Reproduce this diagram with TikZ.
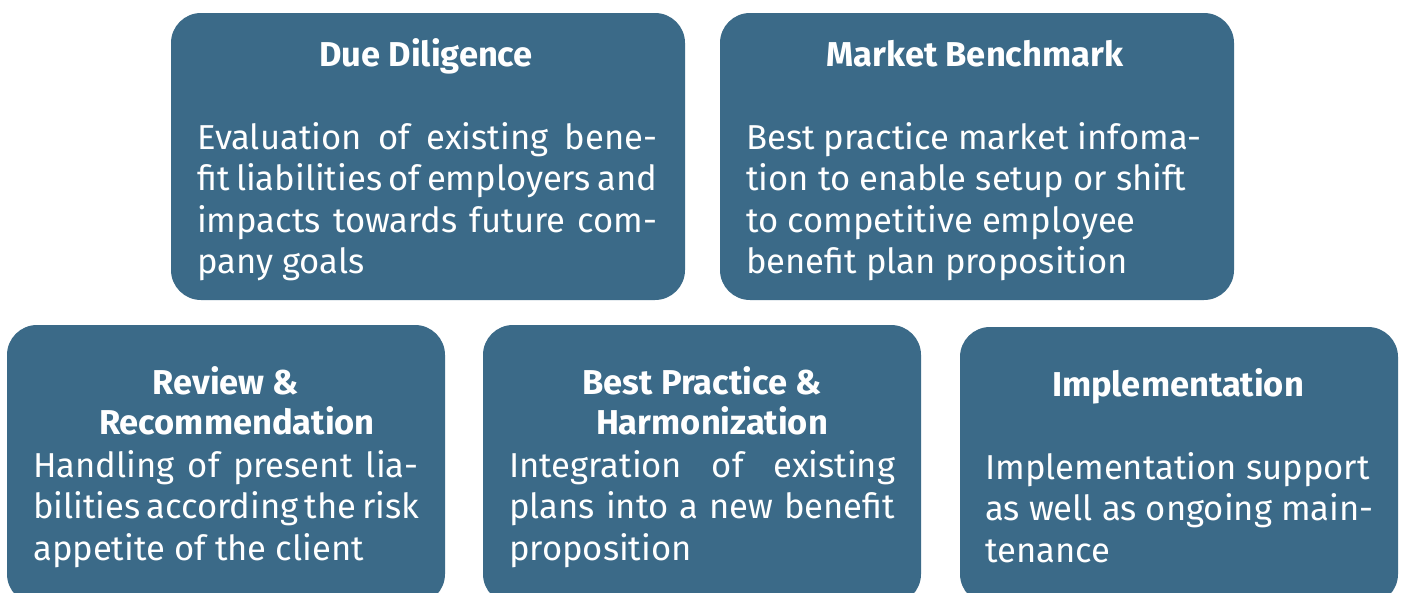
\documentclass[tikz,border=0pt]{standalone}
\usepackage{fontspec}
\setmainfont{Fira Sans}
\definecolor{boxblue}{RGB}{59,106,136}
\newcommand{\bodyfnt}{\fontsize{34.6}{41.5}\selectfont}
\newcommand{\headfnt}{\fontsize{34.5}{40}\selectfont\bfseries}
\newcommand{\jl}[2]{\makebox[#1][s]{#2}}
\begin{document}
\begin{tikzpicture}[x=1pt,y=-1pt,
  card/.style={fill=boxblue, draw=none, rounded corners=30pt},
  head/.style={anchor=base, inner sep=0pt, text=white, font=\headfnt, align=center},
  body/.style={anchor=base west, inner sep=0pt, text=white, font=\bodyfnt, align=left}]
\useasboundingbox (0,0) rectangle (1402,592);
\begin{scope}
\clip (0,0) rectangle (1402,592);
\path[card] (171,13) rectangle (685,300);
\path[card] (720,13) rectangle (1234,300);
\path[card] (7,325) rectangle (445,604);
\path[card] (483,325) rectangle (921,604);
\path[card] (960,327) rectangle (1398,604);
\end{scope}
% top row (anchor = baseline of last line)
\node[head] (h1) at (426,66) {Due Diligence};
\node[body] (b1) at (197,273.5) {\jl{460pt}{Evaluation of existing bene-}\\\jl{460pt}{fit liabilities of employers and}\\\jl{460pt}{impacts towards future com-}\\pany goals};
\node[head] (h2) at (975,66) {Market Benchmark};
\node[body] (b2) at (746,273.5) {Best practice market infoma-\\tion to enable setup or shift\\to competitive employee\\benefit plan proposition};
% bottom row
\node[head] (h3) at (226,434) {Review \&\\\hspace*{22pt}Recommendation};
\node[body] (b3) at (33,560) {\jl{385pt}{Handling of present lia-}\\\jl{385pt}{bilities according the risk}\\appetite of the client};
\node[head] (h4) at (702,434) {Best Practice \&\\\hspace*{20pt}Harmonization};
\node[body] (b4) at (509,560) {\jl{386pt}{Integration of existing}\\\jl{386pt}{plans into a new benefit}\\proposition};
\node[head] (h5) at (1178,396) {Implementation};
\node[body] (b5) at (985,562) {Implementation support\\as well as ongoing main-\\tenance};
\end{tikzpicture}
\end{document}
